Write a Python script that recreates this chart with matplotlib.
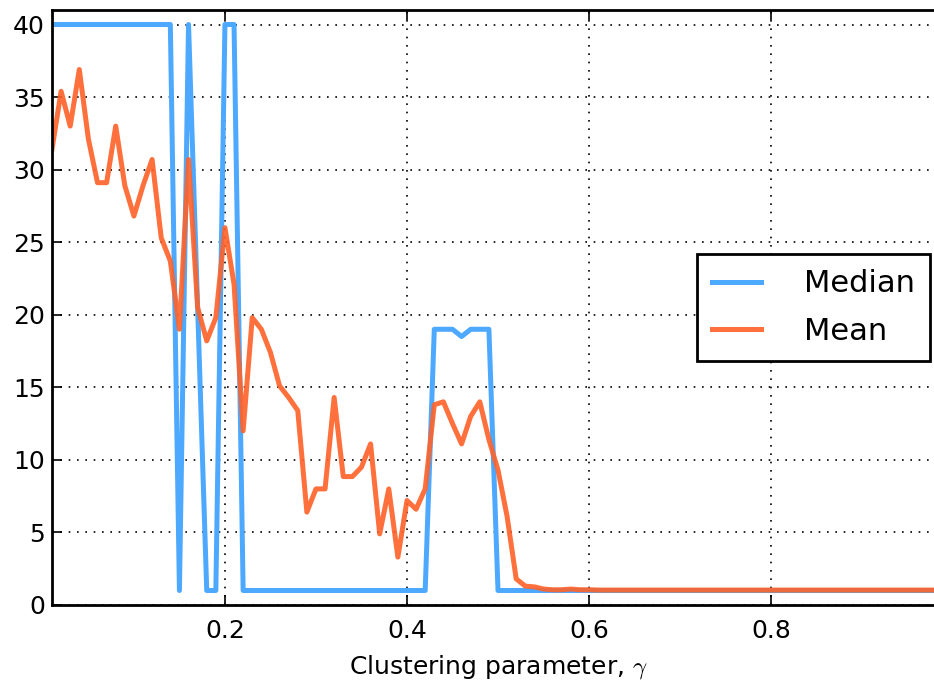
import numpy as np
import matplotlib
matplotlib.use("Agg")
import matplotlib.pyplot as plt

plt.rcParams["mathtext.fontset"] = "cm"
plt.rcParams["font.family"] = ["DejaVu Sans"]

# clustering parameter gamma, 0.01 .. 0.99
gamma = np.round(np.arange(1, 100) / 100.0, 2)

median_head = [40, 40, 40, 40, 40, 40, 40, 40, 40, 40,
               40, 40, 40, 40, 1, 40, 20.5, 1, 1, 40,
               40, 1, 1, 1, 1, 1, 1, 1, 1, 1,
               1, 1, 1, 1, 1, 1, 1, 1, 1, 1,
               1, 1, 19, 19, 19, 18.5, 19, 19, 19, 1]
median = median_head + [1] * (len(gamma) - len(median_head))

mean_head = [31.4, 35.4, 33.0, 36.9, 32.1, 29.1, 29.1, 33.0, 28.9, 26.8,
             28.9, 30.7, 25.3, 23.7, 19.0, 30.7, 20.5, 18.2, 19.8, 26.0,
             22.1, 12.0, 19.8, 19.0, 17.4, 15.1, 14.3, 13.4, 6.4, 8.0,
             8.0, 14.3, 8.85, 8.85, 9.5, 11.1, 4.9, 8.0, 3.3, 7.2,
             6.6, 8.0, 13.8, 14.0, 12.5, 11.1, 13.0, 14.0, 11.4, 9.3,
             6.1, 1.8, 1.3, 1.25, 1.1, 1.05, 1.05, 1.1, 1.05, 1.05]
mean = mean_head + [1.03] * (len(gamma) - len(mean_head))

fig = plt.figure(figsize=(9.34, 6.82), dpi=100)
ax = fig.add_axes([52 / 934, 77 / 682, 892 / 934, 595 / 682])

ax.plot(gamma, median, color="#4da9ff", lw=3.6, label="Median")
ax.plot(gamma, mean, color="#ff6128", lw=3.6, alpha=0.9, label="Mean")

ax.set_xlim(0.01, 0.99)
ax.set_ylim(0, 41)
ax.set_xticks([0.2, 0.4, 0.6, 0.8])
ax.set_xticklabels(["0.2", "0.4", "0.6", "0.8"])
ax.set_yticks(range(0, 41, 5))
ax.grid(True, color="black", linestyle=(0, (1, 4)), linewidth=1.2)
ax.tick_params(direction="in", length=7, width=1.2, labelsize=18,
               top=True, right=True)
ax.tick_params(axis="x", pad=10)
ax.tick_params(axis="y", pad=5)
for s in ax.spines.values():
    s.set_linewidth(2)
ax.set_xlabel(r"Clustering parameter, $\gamma$", fontsize=18, labelpad=7)

leg = ax.legend(loc="upper right", bbox_to_anchor=(930 / 934, 1 - 254 / 682),
                bbox_transform=fig.transFigure, borderaxespad=0,
                fontsize=22, fancybox=False, framealpha=1,
                handlelength=1.6, handletextpad=1.4, borderpad=0.5,
                labelspacing=0.6)
leg.get_frame().set_edgecolor("black")
leg.get_frame().set_linewidth(2)

fig.savefig("out.png", dpi=100)
